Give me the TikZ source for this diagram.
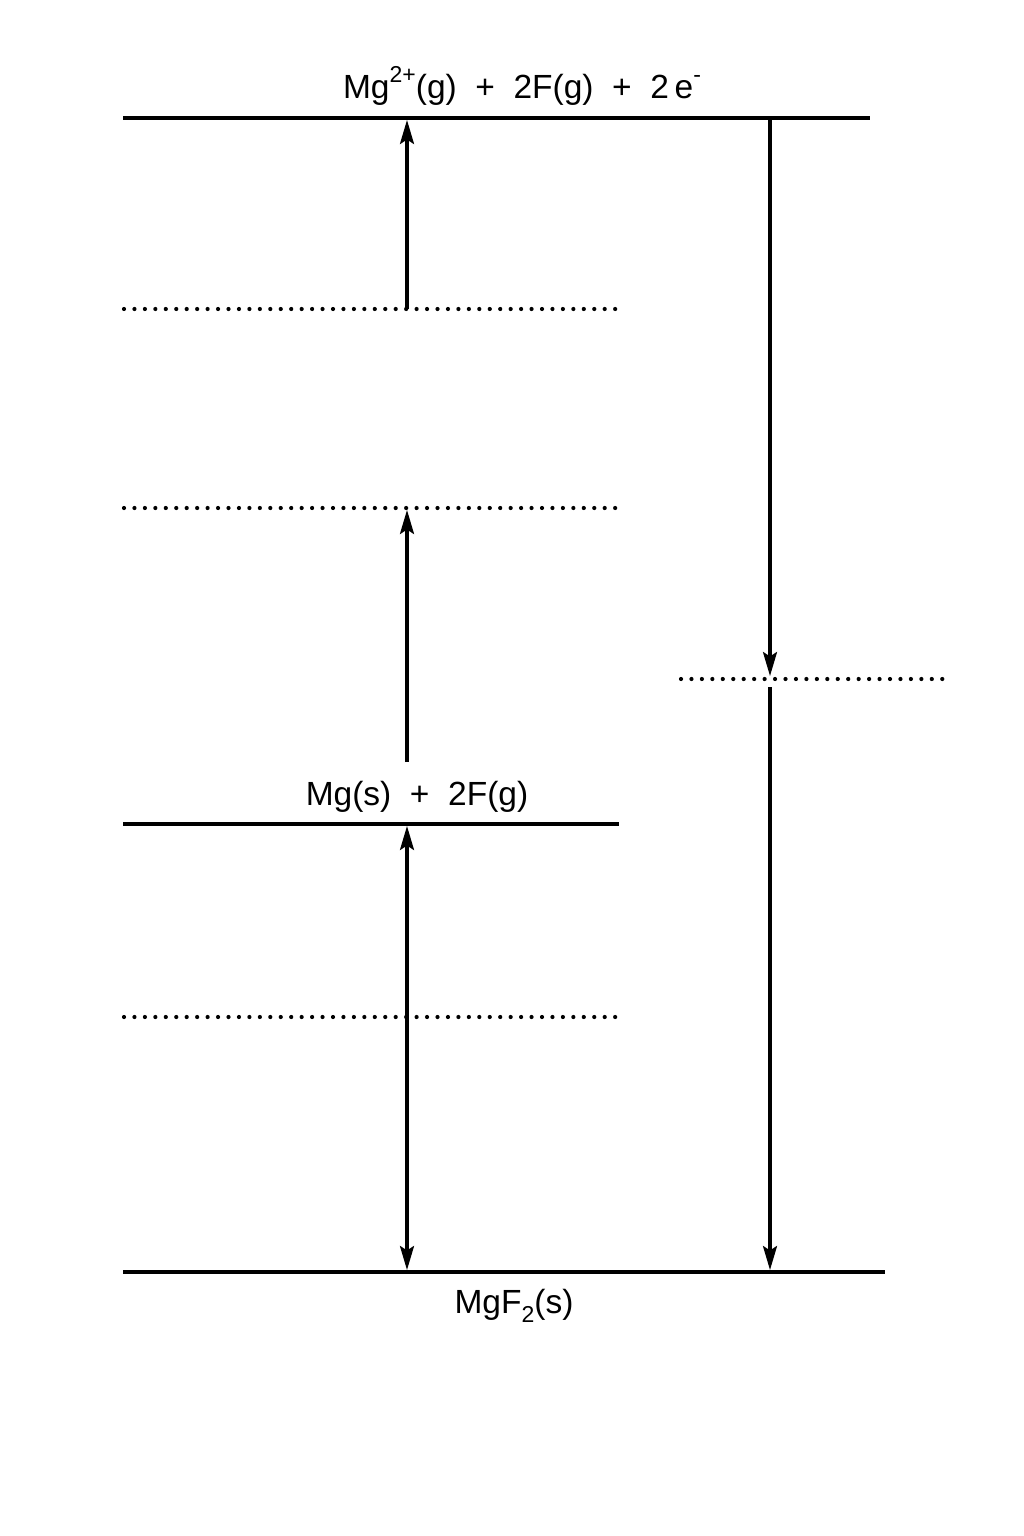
\documentclass[tikz,border=0pt]{standalone}
\usepackage{fontspec}
\setmainfont{Liberation Sans}
\usetikzlibrary{arrows.meta}
\newcommand{\upidx}[1]{\raisebox{0.5em}{\fontsize{23}{23}\selectfont #1}}
\newcommand{\loidx}[1]{\raisebox{-0.28em}{\fontsize{23}{23}\selectfont #1}}
\begin{document}
\begin{tikzpicture}[x=1pt,y=-1pt,
  level/.style={line width=3.2pt},
  dotline/.style={line width=4.2pt,line cap=round,dash pattern=on 0pt off 10.45pt},
  tip/.tip={Stealth[length=24pt,width=14pt,inset=4.5pt]},
  arr/.style={line width=3.1pt,-tip},
  darr/.style={line width=3.1pt,tip-tip},
  lbl/.style={font=\fontsize{33.5}{38}\selectfont,inner sep=0pt}]
\useasboundingbox (0,0) rectangle (1024,1536);
% levels
\coordinate (t1) at (123,118); \coordinate (t2) at (870,118);
\coordinate (m1) at (123,824); \coordinate (m2) at (619,824);
\coordinate (b1) at (123,1272); \coordinate (b2) at (885,1272);
\draw[level] (t1) -- (t2);
\draw[level] (m1) -- (m2);
\draw[level] (b1) -- (b2);
% dotted levels
\coordinate (d1a) at (124,309); \coordinate (d1b) at (616,309);
\coordinate (d2a) at (124,508); \coordinate (d2b) at (616,508);
\coordinate (d3a) at (124,1017); \coordinate (d3b) at (616,1017);
\coordinate (d4a) at (681,679); \coordinate (d4b) at (943,679);
\draw[dotline] (d1a) -- (d1b);
\draw[dotline] (d2a) -- (d2b);
\draw[dotline] (d3a) -- (d3b);
\draw[dotline] (d4a) -- (d4b);
% labels
\node[lbl,anchor=base] (top) at (522,99) {Mg\upidx{2+}(g)\ \ +\ \ 2F(g)\ \ +\ \ 2\,e\upidx{-}};
\node[lbl,anchor=base] (mid) at (417,805) {Mg(s)\ \ +\ \ 2F(g)};
\node[lbl,anchor=base] (bot) at (514,1313) {MgF\loidx{2}(s)};
% arrows
\coordinate (a1s) at (407,309); \coordinate (a1e) at (407,120);
\coordinate (a2s) at (407,762); \coordinate (a2e) at (407,510);
\coordinate (a3s) at (407,826); \coordinate (a3e) at (407,1270);
\coordinate (r1s) at (770,119); \coordinate (r1e) at (770,676);
\coordinate (r2s) at (770,687); \coordinate (r2e) at (770,1270);
\draw[arr] (a1s) -- (a1e);
\draw[arr] (a2s) -- (a2e);
\draw[darr] (a3s) -- (a3e);
\draw[arr] (r1s) -- (r1e);
\draw[arr] (r2s) -- (r2e);
\end{tikzpicture}
\end{document}
